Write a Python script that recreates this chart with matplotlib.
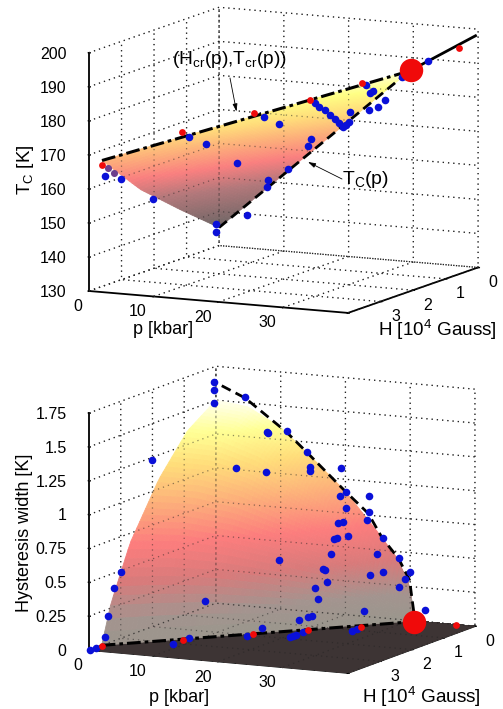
import numpy as np
import matplotlib
matplotlib.use('Agg')
import matplotlib.pyplot as plt
from matplotlib.colors import LinearSegmentedColormap
from mpl_toolkits.mplot3d import proj3d

plt.rcParams['font.family'] = ['Liberation Sans', 'DejaVu Sans']
plt.rcParams['mathtext.fontset'] = 'custom'
plt.rcParams['mathtext.rm'] = 'Liberation Sans'
plt.rcParams['mathtext.default'] = 'regular'

W, H_ = 503, 709

# ---- data, upper panel
surf_p = [0, 10, 20, 29.4]
surf_f = [0, 0.33, 0.67, 1]
surf_hcr = [3.6, 2.38, 1.15, 0.0]
surf_T = [[135.3, 144.5, 154.5, 167.0],
          [152.6, 159.5, 166.6, 173.5],
          [169.8, 173.1, 176.6, 179.9],
          [186.0, 186.0, 186.0, 186.0]]
tc_p = [0, 29.4]
tc_T = [135.3, 186.0]
tc_hi_p = [29.4, 39.6]
tc_hi_T = [186.0, 198.0]
cr_p = [0, 29.4]
cr_H = [3.6, 0.0]
cr_T = [167.0, 186.0]
tb_p = [32.2,28.3,28.7,25.1,24.9,24.4,25.6,24.6,23.2,21.1,20.0,19.6,19.2,15.1,15.3,8.4,8.1,8.3,15.6,14.7,10.9,8.3,7.5,4.3,0.2,0.0,0.0,0.0,0.0,19.8,19.7,19.6,19.5,19.3,19.1,19.1]
tb_H = [0.0,0.01,0.0,0.48,0.23,0.22,0.0,0.0,0.0,0.18,0.0,0.0,0.0,1.64,1.19,2.08,2.53,1.11,0.28,0.18,0.05,0.15,0.02,0.0,0.14,0.1,2.04,3.03,3.5,1.0,0.84,0.65,0.47,0.28,0.11,0.0]
tb_T = [189.4,184.2,184.7,182.8,180.3,179.4,176.9,174.8,173.7,173.3,169.4,168.6,167.8,175.8,172.1,168.1,171.5,159.4,164.8,162.2,154.5,151.0,148.4,139.7,136.8,134.4,150.5,159.7,162.2,178.3,176.8,175.0,173.0,171.1,169.4,168.2]
tp_p = [0.0, 0.0]
tp_H = [3.22, 3.43]
tp_T = [162.2, 164.1]
tr_p = [37.1,25.0,19.9,14.9,8.2,0.0]
tr_H = [0.0,0.57,1.17,1.88,2.76,3.61]
tr_T = [194.1,183.6,180.0,177.5,173.8,165.8]
tB_p = [29.7]
tB_H = [0.0]
tB_T = [186.4]

# ---- data, lower panel
w_p = [0, 5, 10, 15, 20, 25, 28, 30, 30.6]
w_f = [0, 0.25, 0.5, 0.75, 0.92, 1]
w_hcr = [3.6, 3.01, 2.42, 1.83, 1.24, 0.65, 0.3, 0.07, 0.0]
w_T = [[1.50, 1.35, 1.07, 0.68, 0.28, 0],
       [1.47, 1.32, 1.04, 0.66, 0.27, 0],
       [1.34, 1.21, 0.95, 0.60, 0.25, 0],
       [1.13, 1.02, 0.80, 0.51, 0.21, 0],
       [0.91, 0.82, 0.65, 0.41, 0.17, 0],
       [0.63, 0.57, 0.45, 0.28, 0.12, 0],
       [0.45, 0.40, 0.32, 0.20, 0.08, 0],
       [0.25, 0.22, 0.18, 0.11, 0.05, 0],
       [0.00, 0.00, 0.00, 0.00, 0.00, 0]]
edge_p = [0.9, 4.5, 10.9, 14.0, 20.0, 23.5, 25.7, 28.2, 29.9, 30.6]
edge_w = [1.61, 1.535, 1.31, 1.176, 0.91, 0.764, 0.589, 0.45, 0.297, 0.05]
floor_p = [0, 5, 10, 15, 20, 25, 28, 30, 30.6, 40]
floor_h = [3.6, 3.01, 2.42, 1.83, 1.24, 0.65, 0.3, 0.07, 0.0, 0.0]
bb_p = [0,0,0,4.5,7.9,8.0,10.9,14.1,14.5,14.5,19.3,3.1,7.7,0,20.1,19.2,23.6,20.1,23.6,23.4,18.9,19.7,20.4,18.2,18.7,25.8,17.7,24.9,28.3,9.7,16.5,16.8,25.8,23.8,30.0,29.2,28.3,17.2,15.3,0,0,0,15.8,0,22.9,32.3,16.1,16.05,16.13,14.24,0]
bb_H = [0.05,0.05,0.05,0,0,0,0,0,0,0,0,0,0,2.0,0,0,0,0,0,0,0,0,0,0,0,0,0,0,0,0,0,0,0,0,0,0,0,0,0,3.0,3.2,3.41,0,0.35,0,0,0.27,0.36,0.67,1.44,3.5]
bb_v = [1.64,1.58,1.48,1.54,1.3,1.29,1.32,1.18,1.07,1.04,1.08,1.01,1.0,1.23,0.91,0.87,0.89,0.79,0.77,0.71,0.67,0.68,0.58,0.55,0.56,0.59,0.44,0.47,0.45,0.36,0.32,0.32,0.34,0.31,0.36,0.3,0.24,0.23,0.18,0.49,0.39,0.2,0.1,0.05,0.04,0.09,0,0,0,0,0.05]
bf_p = [0.3,0.2,8.3,8.4,14.8,20.6,20.7,20.7,20.4,26.2,26.2]
bf_H = [3.84,4.0,3.05,2.56,2.05,1.88,1.79,1.7,1.43,1.06,0.89]
br_p = [0.1,8.4,14.9,20.4,26.2,37.4]
br_H = [3.62,2.76,1.88,1.26,0.78,0.06]
bB_p = [30.9]
bB_H = [0.06]

fig = plt.figure(figsize=(5.03, 7.09), dpi=100)

def fx(x): return x / W
def fy(y): return 1 - y / H_

def refine(pn, fn, table, hcr, nr=70, nc=40):
    pn, fn, table = np.array(pn, float), np.array(fn, float), np.array(table, float)
    pf = np.linspace(pn[0], pn[-1], nr)
    ff = np.linspace(0, 1, nc)
    cols = np.array([np.interp(pf, pn, table[:, j]) for j in range(len(fn))])
    Z = np.array([np.interp(ff, fn, cols[:, i]) for i in range(nr)])
    hc = np.interp(pf, pn, hcr)
    P = np.repeat(pf[:, None], nc, axis=1)
    Hm = hc[:, None] * ff[None, :]
    return P, Hm, Z

def grid_lines(ax, pt, ht, zt, zl):
    for zorder, alpha in ((0.5, 1.0), (3, 0.5)):
        kw = dict(color='#222222', lw=0.9, ls=(0, (1, 3.2)), alpha=alpha, zorder=zorder)
        for z in zt:
            ax.plot([0, 0, 40], [4, 0, 0], [z, z, z], **kw)
        for p in pt:
            ax.plot([p, p, p], [4, 0, 0], [zl[0], zl[0], zl[1]], **kw)
        for h in ht:
            ax.plot([40, 0, 0], [h, h, h], [zl[0], zl[0], zl[1]], **kw)

def panel(a, b, aspect, el, az, zl, zt, ztl):
    ax = fig.add_axes([0.1, 0.1, 0.6, 0.6 * W / H_], projection='3d', proj_type='ortho',
                      computed_zorder=False)
    ax.set_xlim(0, 40); ax.set_ylim(4, 0); ax.set_zlim(*zl)
    ax.set_box_aspect(aspect); ax.view_init(elev=el, azim=az)
    ax.patch.set_visible(False)
    def scr(P):
        x, y, _ = proj3d.proj_transform(P[0], P[1], P[2], ax.get_proj())
        q = ax.transData.transform((x, y))
        return np.array([q[0], H_ - q[1]])
    S = 300.
    ax.set_position([0.1, 0.1, S / W, S / H_])
    d = np.linalg.norm(scr((40, 4, zl[0])) - scr((0, 4, zl[0])))
    S = S * np.linalg.norm(np.array(b) - np.array(a)) / d
    ax.set_position([0.1, 0.1, S / W, S / H_])
    off = np.array(a) - scr((0, 4, zl[0]))
    ax.set_position([0.1 + off[0] / W, 0.1 - off[1] / H_, S / W, S / H_])
    ax.set_xticks([0, 10, 20, 30, 40]); ax.set_xticklabels(['0', '10', '20', '30', ''], ha='right', va='center')
    ax.set_yticks([0, 1, 2, 3, 4]); ax.set_yticklabels(['0', '1', '2', '3', ''], va='center')
    ax.set_zticks(zt); ax.set_zticklabels(ztl, ha='right', va='center')
    ax.set_xlim(0, 40); ax.set_ylim(4, 0); ax.set_zlim(*zl)
    ax.zaxis.set_ticks_position('upper')
    ax.grid(False)
    for axis in (ax.xaxis, ax.yaxis, ax.zaxis):
        axis.set_pane_color((1, 1, 1, 0))
        axis.pane.set_edgecolor((1, 1, 1, 0))
        axis.line.set_color('k'); axis.line.set_linewidth(1.3)
        axis._axinfo['tick'].update(inward_factor=0.06, outward_factor=0.03, linewidth={True: 1.0, False: 0.5})
    ax.tick_params(labelsize=11.5, colors='k')
    ax.tick_params(axis='x', pad=1.5)
    ax.tick_params(axis='y', pad=2)
    ax.tick_params(axis='z', pad=2)
    grid_lines(ax, [0, 10, 20, 30, 40], [0, 1, 2, 3], zt, zl)
    return ax

cm_T = LinearSegmentedColormap.from_list('t', [(0, (0.44, 0.40, 0.40)), (0.28, (0.70, 0.47, 0.48)),
    (0.45, (0.98, 0.50, 0.50)), (0.6, (0.99, 0.68, 0.48)), (0.74, (1.0, 0.86, 0.48)),
    (0.88, (1.0, 1.0, 0.52)), (1, (1.0, 1.0, 0.82))])
cm_w = LinearSegmentedColormap.from_list('w', [(0, (0.60, 0.59, 0.55)), (0.14, (0.64, 0.58, 0.56)),
    (0.3, (0.85, 0.48, 0.48)), (0.46, (0.99, 0.49, 0.49)), (0.62, (0.99, 0.68, 0.48)),
    (0.78, (1.0, 0.87, 0.48)), (0.9, (1.0, 1.0, 0.58)), (1, (1.0, 1.0, 0.92))])

blue = '#0a10d8'
red = '#f00a0a'
dash = (0, (3.6, 2.0))
dashdot = (0, (4.5, 1.3, 1.2, 1.3))

# ================= upper =================
ax = panel((89, 291), (348, 313), (290, 296, 243), 9.9, -63.8, (130, 200),
           list(range(130, 201, 10)), [str(v) for v in range(130, 201, 10)])
P, Hm, Z = refine(surf_p, surf_f, surf_T, surf_hcr)
c = cm_T((Z - 135.3) / (186 - 135.3))
ax.plot_surface(P, Hm, Z, facecolors=c, rcount=70, ccount=40, shade=False,
                linewidth=0.6, antialiased=True, zorder=2)
ax.plot(tc_p, [0, 0], tc_T, color='k', lw=2.0, ls=dash, zorder=4)
ax.plot(tc_hi_p, [0, 0], tc_hi_T, color='k', lw=2.0, zorder=4)
ax.plot(cr_p, cr_H, cr_T, color='k', lw=2.2, ls=dashdot, zorder=4)
ax.scatter(tb_p, tb_H, tb_T, s=30, c=blue, linewidths=0, depthshade=False, zorder=5)
ax.scatter(tp_p, tp_H, tp_T, s=26, c='#6d3f8e', linewidths=0, depthshade=False, zorder=5)
ax.scatter(tr_p, tr_H, tr_T, s=24, c=red, linewidths=0, depthshade=False, zorder=5)
ax.scatter(tB_p, tB_H, tB_T, s=285, c=red, linewidths=0, depthshade=False, zorder=6)

fig.text(fx(25), fy(170), r'T$_{\mathrm{C}}$ [K]', rotation=90, ha='center', va='center', fontsize=13.5)
fig.text(fx(163), fy(330), 'p [kbar]', ha='center', va='center', fontsize=13)
fig.text(fx(437), fy(330), r'H [10$^{4}$ Gauss]', ha='center', va='center', fontsize=13.6)
fig.text(fx(229), fy(60), r'(H$_{\mathrm{cr}}$(p),T$_{\mathrm{cr}}$(p))', ha='center', va='center', fontsize=13.8)
fig.text(fx(366), fy(180), r'T$_{\mathrm{C}}$(p)', ha='center', va='center', fontsize=14)
for s, e in (((230, 78), (236.5, 111.5)), ((342, 179), (308, 162))):
    ax.annotate('', xy=(fx(e[0]), fy(e[1])), xytext=(fx(s[0]), fy(s[1])), xycoords='figure fraction',
                textcoords='figure fraction',
                arrowprops=dict(arrowstyle='-|>,head_length=0.45,head_width=0.14', color='k', lw=0.6, shrinkA=0, shrinkB=0))

# ================= lower =================
ax = panel((89, 650), (348, 673), (288.5, 288.6, 241), 10.4, -63.9, (0, 1.75),
           [0, 0.25, 0.5, 0.75, 1, 1.25, 1.5, 1.75], ['0', '0.25', '0.5', '0.75', '1', '1.25', '1.5', '1.75'])
fp = np.array(floor_p, float); fh = np.array(floor_h, float)
FP = np.vstack([fp, fp]); FH = np.vstack([fh, np.full_like(fh, 4.0)])
ax.plot_surface(FP, FH, np.zeros_like(FP), color='#3d3434', shade=False, linewidth=0, antialiased=False, zorder=1,
                rcount=2, ccount=len(fp))
P, Hm, Z = refine(w_p, w_f, w_T, w_hcr)
ax.plot_surface(P, Hm, Z, facecolors=cm_w(Z / 1.5), rcount=70, ccount=40, shade=False,
                linewidth=0.6, antialiased=True, zorder=2)
ax.plot(edge_p, np.zeros(len(edge_p)), edge_w, color='k', lw=2.0, ls=dash, zorder=4)
ax.plot([0, 30.9], [3.6, 0.06], [0, 0], color='k', lw=2.2, ls=dashdot, zorder=4)
ax.scatter(bb_p, bb_H, bb_v, s=30, c=blue, linewidths=0, depthshade=False, zorder=5)
ax.scatter(bf_p, bf_H, np.zeros(len(bf_p)), s=30, c=blue, linewidths=0, depthshade=False, zorder=5)
ax.scatter(br_p, br_H, np.zeros(len(br_p)), s=24, c=red, linewidths=0, depthshade=False, zorder=5)
ax.scatter(bB_p, bB_H, np.zeros(1), s=285, c=red, linewidths=0, depthshade=False, zorder=6)

fig.text(fx(25), fy(533), 'Hysteresis width [K]', rotation=90, ha='center', va='center', fontsize=13)
fig.text(fx(179), fy(698), 'p [kbar]', ha='center', va='center', fontsize=13)
fig.text(fx(421), fy(697), r'H [10$^{4}$ Gauss]', ha='center', va='center', fontsize=13.6)

fig.savefig('out.png', dpi=100)
